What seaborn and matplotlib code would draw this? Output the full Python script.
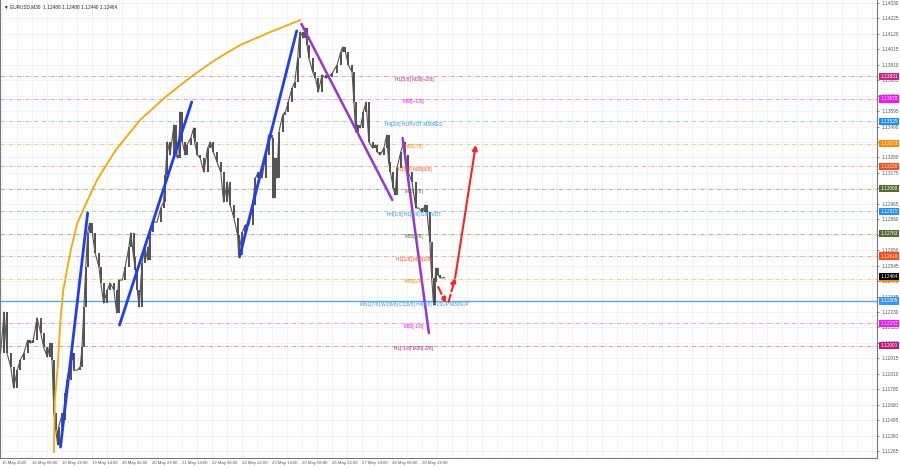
import numpy as np
import pandas as pd
import matplotlib
matplotlib.use("Agg")
import matplotlib.pyplot as plt
import matplotlib.transforms as mtransforms
import seaborn as sns

# EURUSD M30 price path (bar index, price)
bars = [0, 4, 7, 11, 14, 18, 21, 25, 29, 32, 35, 39, 43, 46, 50, 53, 55, 57, 59, 61,
        62, 66, 67, 69, 71, 75, 77, 78, 82, 85, 87, 89, 91, 93, 95, 98, 101, 105, 107, 110,
        114, 117, 121, 124, 126, 130, 133, 137, 139, 142, 144, 146, 148, 151, 154, 157, 160, 163, 167, 171,
        174, 176, 178, 181, 185, 187, 189, 192, 194, 197, 199, 203, 206, 207, 210, 213, 217, 221, 224, 227,
        231, 235, 238, 242, 245, 249, 253, 254, 258, 261, 265, 269, 272, 275, 279, 283, 286, 290, 291, 293,
        295, 297, 301, 304, 307, 311, 314, 317, 319, 320, 323, 325, 327, 329, 333, 336, 339, 343, 347, 350,
        354, 359, 363, 365, 368, 371, 375, 377, 379, 381, 384, 387, 390, 393, 397, 400, 402, 405, 409, 412,
        414, 416, 419, 421, 423, 427, 430, 432, 435, 439, 443, 446, 450, 453, 455, 458, 460, 462, 463, 465,
        467, 469, 474]
prices = [1.11951, 1.12230, 1.11951, 1.11856, 1.11713, 1.11835, 1.11903, 1.11951, 1.12039, 1.12019,
          1.12039, 1.12189, 1.12087, 1.11992, 1.11924, 1.12019, 1.11903, 1.11543, 1.11428, 1.11326,
          1.11448, 1.11543, 1.11496, 1.11679, 1.11768, 1.11903, 1.11951, 1.11835, 1.11835, 1.11856,
          1.11992, 1.12264, 1.12536, 1.12767, 1.12835, 1.12767, 1.12631, 1.12536, 1.12427, 1.12291,
          1.12379, 1.12427, 1.12379, 1.12223, 1.12447, 1.12447, 1.12536, 1.12672, 1.12767, 1.12604,
          1.12515, 1.12379, 1.12264, 1.12563, 1.12672, 1.12583, 1.12774, 1.12841, 1.12841, 1.12937,
          1.12977, 1.13161, 1.13385, 1.13297, 1.13501, 1.13297, 1.13276, 1.13589, 1.13385, 1.13297,
          1.13365, 1.13412, 1.13480, 1.13385, 1.13297, 1.13276, 1.13181, 1.13344, 1.13385, 1.13317,
          1.13249, 1.13181, 1.12977, 1.13113, 1.12957, 1.12869, 1.12753, 1.12617, 1.12774, 1.12821,
          1.12821, 1.12957, 1.13140, 1.13181, 1.13140, 1.13297, 1.13433, 1.13412, 1.13005, 1.13276,
          1.13140, 1.13453, 1.13569, 1.13589, 1.13657, 1.13752, 1.13793, 1.13956, 1.14113, 1.14133,
          1.14092, 1.14160, 1.14045, 1.13956, 1.13861, 1.13820, 1.13725, 1.13841, 1.13820, 1.13827,
          1.13854, 1.13909, 1.13997, 1.14031, 1.13997, 1.13909, 1.13861, 1.13657, 1.13453, 1.13501,
          1.13480, 1.13589, 1.13657, 1.13385, 1.13344, 1.13365, 1.13317, 1.13297, 1.13344, 1.13433,
          1.13249, 1.13181, 1.13073, 1.13025, 1.13209, 1.13317, 1.13385, 1.13297, 1.13181, 1.13113,
          1.12937, 1.12937, 1.12909, 1.12957, 1.12909, 1.12705, 1.12461, 1.12277, 1.12434, 1.12529,
          1.12481, 1.12461, 1.12464]

# Murrey levels: price, label, colour, style
level_prices = [1.13831, 1.13678, 1.13525, 1.13373, 1.13220, 1.13068, 1.12915,
                1.12763, 1.12610, 1.12457, 1.12305, 1.12152, 1.12000]
level_labels = ["H1[5/8] M30[+2/8]", "M30[+1/8]", "H4[2/8] H1PIVOT M30RES", "M30[7/8]",
                "H1[6/8] M30[6/8]", "M30[5/8]", "H4[1/8] H1[3/8] D1PIVOT", "M30[3/8]",
                "H1[1/8] M30[2/8]", "M30[1/8]",
                "MN1[7/8] W1[6/8] D1[6/8] H4[0/8] H1SUP M30SUP", "M30[-1/8]", "H1[-1/8] M30[-2/8]"]
level_colors = ["#d1207f", "#ff10ff", "#1e90ff", "#ff8c00", "#ff4a1a", "#556b2f", "#1e90ff",
                "#556b2f", "#ff4a1a", "#ff8c00", "#3399ff", "#ff10ff", "#c0187a"]
level_solid = [False, False, False, False, False, False, False,
               False, False, False, True, False, False]

current_price = 1.12464

# drawn objects
arc_bars = [57, 58, 61, 64, 67, 75, 82, 93, 103, 123, 149, 176, 203, 229, 256, 288, 320]
arc_prices = [1.11278, 1.11632, 1.11856, 1.12175, 1.12379, 1.12651, 1.12835, 1.12991,
              1.13127, 1.13331, 1.13535, 1.13691, 1.13827, 1.13943, 1.14045, 1.14133, 1.14214]
blue_lines = [((64, 1.11312), (93, 1.12903)),
              ((127, 1.12141), (204, 1.13657)),
              ((255, 1.12604), (316, 1.14140))]
purple_lines = [((321, 1.14187), (418, 1.12991)),
                ((429, 1.13412), (457, 1.12087))]
red_dashed = [((467, 1.12400), (475, 1.12291)),
              ((478, 1.12298), (485, 1.12461))]
red_solid = ((485, 1.12461), (507, 1.13365))

time_labels = ["15 May 2025", "16 May 06:00", "16 May 22:00", "19 May 14:00", "20 May 06:00",
               "20 May 22:00", "21 May 14:00", "22 May 06:00", "22 May 22:00", "23 May 14:00",
               "26 May 06:00", "26 May 22:00", "27 May 14:00", "28 May 06:00", "28 May 22:00"]

sns.set_style("white")
plt.rcParams['font.family'] = ['Liberation Sans', 'DejaVu Sans']
fs = 3.4

fig = plt.figure(figsize=(9, 4.68), dpi=100)
ax = fig.add_axes([0.0, 1 - 458 / 468, 877 / 900, 458 / 468])

ax.set_xlim(-0.5, 935)
ax.set_ylim(1.11238, 1.14350)

# grid
for b in np.arange(2, 935, 16):
    ax.axvline(b, color="#eeeeee", lw=0.5, zorder=0)
yticks = [round(1.14330 - 0.00105 * k, 5) for k in range(30)]
for t in yticks:
    ax.axhline(t, color="#eeeeee", lw=0.5, zorder=0)

# levels
for p, lab, c, solid in zip(level_prices, level_labels, level_colors, level_solid):
    if solid:
        ax.axhline(p, color=c, lw=1.0, alpha=0.85, zorder=1)
    else:
        ax.axhline(p, color=c, lw=0.6, ls=(0, (5, 2, 1, 2)), alpha=0.55, zorder=1)
    ax.text(441, p - 0.00004, lab, color=c, fontsize=fs, ha="center", va="top", zorder=5)

# price path
df = pd.DataFrame({"bar": bars, "price": prices})
ax.vlines(df["bar"][1:], df["price"].values[:-1], df["price"].values[1:],
          color="#333333", lw=1.2, zorder=3)
sns.lineplot(data=df, x="bar", y="price", ax=ax, color="#555555", lw=0.8, zorder=3)

# arc and trend lines
ax.plot(arc_bars, arc_prices, color="#ffa500", lw=1.3, zorder=4)
for (x0, y0), (x1, y1) in blue_lines:
    ax.plot([x0, x1], [y0, y1], color="#1f3cff", lw=2.0, zorder=4)
for (x0, y0), (x1, y1) in purple_lines:
    ax.plot([x0, x1], [y0, y1], color="#9933dd", lw=1.8, zorder=4)
for (x0, y0), (x1, y1) in red_dashed:
    ax.annotate("", xy=(x1, y1), xytext=(x0, y0),
                arrowprops=dict(arrowstyle="-|>", color="#ff2020", lw=1.5, ls="--",
                                mutation_scale=7, shrinkA=0, shrinkB=0), zorder=4)
(x0, y0), (x1, y1) = red_solid
ax.annotate("", xy=(x1, y1), xytext=(x0, y0),
            arrowprops=dict(arrowstyle="-|>", color="#ff2020", lw=1.5,
                            mutation_scale=7, shrinkA=0, shrinkB=0), zorder=4)

# axes
ax.yaxis.tick_right()
ax.set_yticks(yticks)
ax.set_yticklabels([f"{t:.5f}" for t in yticks], fontsize=fs, color="#333333")
ax.set_xticks([2 + 32 * k for k in range(len(time_labels))])
ax.set_xticklabels(time_labels, fontsize=3.1, color="#333333", ha="left")
ax.tick_params(axis="both", length=1.5, width=0.5, pad=0.8, colors="#555555")
ax.tick_params(axis="y", pad=1.5)
ax.set_xlabel("")
ax.set_ylabel("")
for s in ["left", "bottom", "right"]:
    ax.spines[s].set_color("#777777")
    ax.spines[s].set_linewidth(0.8)
ax.spines["top"].set_visible(False)

# price tags on the right axis
trans = mtransforms.blended_transform_factory(ax.transAxes, ax.transData)
for p, c in zip(level_prices, level_colors):
    ax.text(1.004, p, f"{p:.5f}", transform=trans, fontsize=fs, color="white", va="center",
            ha="left", bbox=dict(facecolor=c, edgecolor="none", pad=0.8), clip_on=False, zorder=6)
ax.text(1.004, current_price + 0.00006, f"{current_price:.5f}", transform=trans, fontsize=fs,
        color="white", va="center", ha="left",
        bbox=dict(facecolor="black", edgecolor="none", pad=0.8), clip_on=False, zorder=7)

ax.text(0.004, 0.99, "\u25bc EURUSD,M30  1.12488 1.12488 1.12440 1.12464", transform=ax.transAxes,
        fontsize=fs, color="#222222", va="top", ha="left")

fig.savefig("out.png", dpi=100, facecolor="white")
